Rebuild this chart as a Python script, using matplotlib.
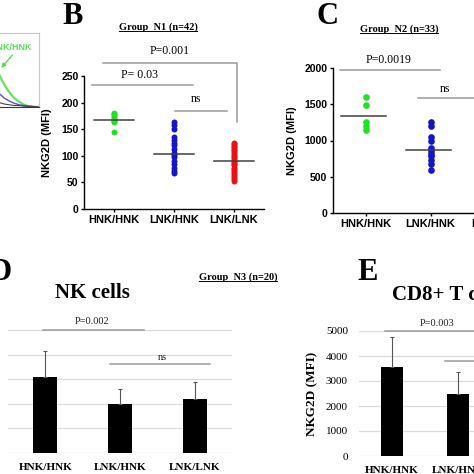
import matplotlib
matplotlib.use("Agg")
import matplotlib.pyplot as plt
from matplotlib.lines import Line2D
import numpy as np

# ---- data ----
categories = ["HNK/HNK", "LNK/HNK", "LNK/LNK"]

# panel A fragment (histogram overlay, only its right edge is visible)
a_x = [40, 50, 55, 60, 65, 70, 75, 80, 85, 90, 99]
a_green = [95, 72, 60, 43, 30, 20, 12, 7, 3, 1, 0]
a_blue = [30, 24, 21, 18, 12, 8, 5, 3, 2, 1, 0]
a_black = [8, 7, 6, 6, 4, 3, 2, 2, 1, 1, 0]

# panel B, group N1 (n=42)
b_hnk_hnk = [181, 178, 176, 173, 170, 168, 166, 163, 145]
b_lnk_hnk = [164, 158, 150, 135, 130, 125, 120, 112, 106, 102, 97, 90, 85, 78, 72, 67]
b_lnk_lnk = [125, 122, 119, 116, 113, 110, 107, 104, 100, 97, 94, 91, 88, 85,
             82, 78, 75, 72, 68, 64, 60, 56, 53]
b_means = [167, 103, 91]

# panel C, group N2 (n=33)
c_hnk_hnk = [1600, 1490, 1250, 1200, 1150]
c_lnk_hnk = [1250, 1200, 1050, 1000, 900, 860, 820, 780, 730, 680, 600]
c_means = [1340, 870]

# panel D, NK cells, group N3 (n=20)
d_values = [3100, 2000, 2200]
d_errors = [1050, 600, 700]

# panel E, CD8+ T cells (only first two groups visible)
e_values = [3560, 2480]
e_errors = [1200, 880]

W = H = 474
fig = plt.figure(figsize=(4.74, 4.74), dpi=100)
SANS = "Liberation Sans"
SERIF = "Liberation Serif"
GREEN, BLUE, RED = "#22e022", "#1414c8", "#ee1010"
GREY = "#9a9a9a"


def add_ax(x0, y0, x1, y1):
    return fig.add_axes([x0 / W, 1 - y1 / H, (x1 - x0) / W, (y1 - y0) / H])


def ftxt(x, y, s, **kw):
    return fig.text(x / W, 1 - y / H, s, **kw)


def bracket(ax, x0, x1, y, **kw):
    ax.plot([x0, x1], [y, y], color=GREY, lw=1.1, clip_on=False, **kw)


# ---- panel A fragment ----
axa = add_ax(-60, 33, 39, 107)
axa.plot(a_x, a_green, color="#66e066", lw=1.6)
axa.plot(a_x, a_blue, color="#5555cc", lw=1.0)
axa.plot(a_x, a_black, color="#444444", lw=0.8)
axa.set_xlim(0, 100)
axa.set_ylim(0, 100)
axa.set_xticks([])
axa.set_yticks([])
for s in axa.spines.values():
    s.set_color("#c8c8c8")
    s.set_linewidth(0.8)
axa.spines["bottom"].set_color("#333366")
axa.text(93, 81, "HNK/HNK", color="#55dd55", fontsize=6.5, fontweight="bold",
         family=SANS, ha="right", va="center")
axa.annotate("", xy=(60, 50), xytext=(75, 73),
             arrowprops=dict(arrowstyle="-|>", color="#55dd55", lw=1.0, mutation_scale=6))


# ---- prism-style scatter panels ----
def prism_axes(ax, ymax, ystep, xlabels):
    ax.set_xlim(0.5, 3.5)
    ax.set_ylim(0, ymax)
    for s in ("top", "right"):
        ax.spines[s].set_visible(False)
    for s in ("left", "bottom"):
        ax.spines[s].set_linewidth(1.0)
    ax.set_yticks(np.arange(0, ymax + 1, ystep))
    ax.set_xticks([1, 2, 3])
    ax.set_xticklabels(xlabels)
    ax.tick_params(direction="out", length=2.5, width=1.0, pad=1.5)
    for lab in ax.get_yticklabels():
        lab.set_fontsize(7.5)
        lab.set_fontweight("bold")
        lab.set_family(SANS)
    for lab in ax.get_xticklabels():
        lab.set_fontsize(8)
        lab.set_fontweight("bold")
        lab.set_family(SANS)
    ax.set_ylabel("NKG2D (MFI)", fontsize=8, fontweight="bold", family=SANS)
    ax.patch.set_alpha(0)


axb = add_ax(84, 76, 264, 209)
prism_axes(axb, 250, 50, categories)
axb.yaxis.set_label_coords((52 - 84) / 180, 0.5)
for i, (vals, col) in enumerate([(b_hnk_hnk, GREEN), (b_lnk_hnk, BLUE), (b_lnk_lnk, RED)]):
    axb.plot([i + 1] * len(vals), vals, "o", color=col, ms=4.3, mec="none", clip_on=False)
    axb.plot([i + 1 - 0.34, i + 1 + 0.34], [b_means[i]] * 2, color="#404040", lw=1.1,
             clip_on=False)
bracket(axb, 0.63, 2.32, 233)
bracket(axb, 2.02, 2.88, 184)
axb.plot([0.82, 3.05, 3.05], [274, 274, 163], color=GREY, lw=1.1, clip_on=False)
axb.text(1.43, 252, "P= 0.03", family=SERIF, fontsize=8.5, ha="center", va="center")
axb.text(1.93, 297, "P=0.001", family=SERIF, fontsize=8.5, ha="center", va="center")
axb.text(2.37, 207, "ns", family=SERIF, fontsize=8.5, ha="center", va="center")

axc = add_ax(333, 68, 528, 213)
prism_axes(axc, 2000, 500, categories)
axc.yaxis.set_label_coords((297 - 333) / 195, 0.5)
for i, (vals, col) in enumerate([(c_hnk_hnk, GREEN), (c_lnk_hnk, BLUE)]):
    axc.plot([i + 1] * len(vals), vals, "o", color=col, ms=4.8, mec="none", clip_on=False)
    axc.plot([i + 1 - 0.38, i + 1 + 0.32], [c_means[i]] * 2, color="#404040", lw=1.1,
             clip_on=False)
bracket(axc, 0.615, 2.15, 1972)
bracket(axc, 1.815, 2.8, 1586)
axc.text(1.35, 2110, "P=0.0019", family=SERIF, fontsize=8.5, ha="center", va="center")
axc.text(2.23, 1710, "ns", family=SERIF, fontsize=8.5, ha="center", va="center")


# ---- excel-style bar panels ----
def bar_axes(ax, show_yticklabels):
    ax.set_xlim(0.5, 3.5)
    ax.set_ylim(0, 5000)
    for s in ax.spines.values():
        s.set_visible(False)
    ax.set_yticks(np.arange(0, 5001, 1000))
    ax.yaxis.grid(True, color="#dadada", lw=0.9)
    ax.set_axisbelow(True)
    ax.set_xticks([1, 2, 3])
    ax.set_xticklabels(categories, family=SERIF, fontweight="bold", fontsize=8)
    ax.tick_params(axis="x", length=0, pad=7)
    ax.tick_params(axis="y", length=0, pad=8, labelleft=show_yticklabels)
    for lab in ax.get_yticklabels():
        lab.set_family(SERIF)
        lab.set_fontsize(8)
    ax.patch.set_alpha(0)


axd = add_ax(8, 330, 232, 453)
bar_axes(axd, False)
xd = np.arange(1, len(d_values) + 1)
axd.bar(xd, d_values, width=0.32, color="black")
axd.errorbar(xd, d_values, yerr=[[0] * len(d_errors), d_errors], fmt="none",
             ecolor="#555555", elinewidth=0.8, capsize=1.5, capthick=0.8)
bracket(axd, 0.97, 2.32, 5000)
bracket(axd, 1.86, 3.2, 3620)
axd.text(1.63, 5330, "P=0.002", family=SERIF, fontsize=7.5, ha="center", va="center",
         color="#222222")
axd.text(2.57, 3900, "ns", family=SERIF, fontsize=7.5, ha="center", va="center",
         color="#222222")

axe = add_ax(359, 331, 557, 456)
bar_axes(axe, True)
xe = np.arange(1, len(e_values) + 1)
axe.bar(xe, e_values, width=0.32, color="black")
axe.errorbar(xe, e_values, yerr=[[0] * len(e_errors), e_errors], fmt="none",
             ecolor="#555555", elinewidth=0.8, capsize=1.5, capthick=0.8)
axe.set_ylabel("NKG2D (MFI)", family=SERIF, fontweight="bold", fontsize=9.5)
axe.yaxis.set_label_coords((318 - 359) / 198, 0.5)
bracket(axe, 0.9, 2.6, 5000)
bracket(axe, 1.8, 3.2, 3800)
axe.text(1.68, 5280, "P=0.003", family=SERIF, fontsize=7.5, ha="center", va="center",
         color="#222222")

# ---- panel letters and titles ----
for x, y, s in [(73, 17, "B"), (327, 17, "C"), (1, 272, "D"), (368, 272, "E")]:
    ftxt(x, y, s, family=SERIF, fontweight="bold", fontsize=22, ha="center", va="center")

ftxt(92, 293, "NK cells", family=SERIF, fontweight="bold", fontsize=15,
     ha="center", va="center")
ftxt(392, 295, "CD8+ T cells", family=SERIF, fontweight="bold", fontsize=15,
     ha="left", va="center")

group_titles = []
for x, y, s in [(158, 27, "Group  N1 (n=42)"), (399, 29, "Group  N2 (n=33)"),
                (238, 277, "Group  N3 (n=20)")]:
    group_titles.append(ftxt(x, y, s, family=SERIF, fontweight="bold", fontsize=7.5,
                             ha="center", va="center"))

fig.canvas.draw()
inv = fig.transFigure.inverted()
for t in group_titles:
    bb = t.get_window_extent().transformed(inv)
    fig.add_artist(Line2D([bb.x0, bb.x1], [bb.y0 + 0.001, bb.y0 + 0.001],
                          transform=fig.transFigure, color="black", lw=0.7))

fig.savefig("out.png", dpi=100)
